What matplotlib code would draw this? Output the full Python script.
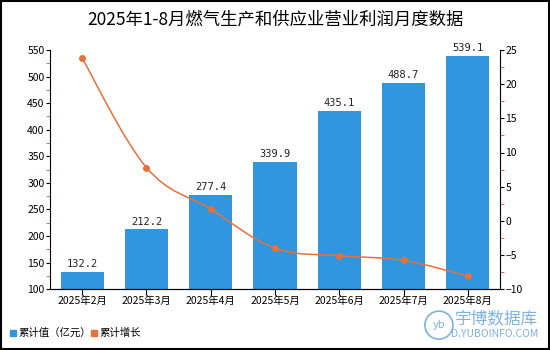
import numpy as np
import matplotlib.pyplot as plt
from matplotlib.path import Path
from matplotlib.patches import PathPatch, Rectangle, Ellipse
from matplotlib.ticker import MultipleLocator

plt.rcParams['font.family'] = ['Noto Sans CJK SC', 'DejaVu Sans']

months = ['2025年2月', '2025年3月', '2025年4月', '2025年5月', '2025年6月', '2025年7月', '2025年8月']
values = [132.2, 212.2, 277.4, 339.9, 435.1, 488.7, 539.1]
growth = [23.8, 7.8, 1.7, -4.0, -5.1, -5.8, -8.1]

bar_color = '#3196E0'
line_color = '#E8703A'

fig = plt.figure(figsize=(5.5, 3.5), dpi=100)
ax = fig.add_axes([0.091, 0.174, 0.818, 0.683])
x = np.arange(len(months))

bars = ax.bar(x, values, width=0.67, color=bar_color, zorder=2)
for xi, v in zip(x, values):
    ax.text(xi, v + 5, '%.1f' % v, ha='center', va='bottom', fontsize=7.5,
            family='DejaVu Sans Mono', color='#222222')

ax.set_ylim(100, 550)
ax.set_xlim(-0.5, len(months) - 0.5)
ax.yaxis.set_major_locator(MultipleLocator(50))
ax.yaxis.set_minor_locator(MultipleLocator(25))
ax.set_xticks(x)
ax.set_xticklabels(months)
ax.tick_params(axis='both', labelsize=7.5, length=3, pad=1)
ax.tick_params(axis='y', which='minor', length=3, color='#E05050')
ax.tick_params(axis='x', length=4)
ax.spines['top'].set_visible(False)
ax.spines['right'].set_visible(False)

ax2 = ax.twinx()
ax2.set_ylim(-10, 25)
ax2.yaxis.set_major_locator(MultipleLocator(5))
ax2.yaxis.set_minor_locator(MultipleLocator(2.5))
ax2.tick_params(axis='y', labelsize=7.5, length=3, pad=1)
ax2.tick_params(axis='y', which='minor', length=3, color='#E05050')
ax2.spines['top'].set_visible(False)
ax2.spines['left'].set_visible(False)

# smooth curve through the points (Catmull-Rom as cubic bezier)
pts = np.column_stack([x, growth]).astype(float)
verts = [tuple(pts[0])]
codes = [Path.MOVETO]
t = 0.18
for i in range(len(pts) - 1):
    p0 = pts[i - 1] if i > 0 else pts[i]
    p1 = pts[i]
    p2 = pts[i + 1]
    p3 = pts[i + 2] if i + 2 < len(pts) else pts[i + 1]
    c1 = p1 + (p2 - p0) * t
    c2 = p2 - (p3 - p1) * t
    verts += [tuple(c1), tuple(c2), tuple(p2)]
    codes += [Path.CURVE4] * 3
ax2.add_patch(PathPatch(Path(verts, codes), facecolor='none', edgecolor=line_color, lw=1.1, zorder=3))
ax2.plot(x, growth, 'o', color=line_color, markersize=4, zorder=4)

fig.text(0.5, 0.943, '2025年1-8月燃气生产和供应业营业利润月度数据', ha='center', va='center', fontsize=12.5)

# legend
fig.patches.append(Rectangle((0.018, 0.04), 0.011, 0.017, transform=fig.transFigure, color=bar_color))
fig.text(0.034, 0.049, '累计值（亿元）', fontsize=7.5, va='center')
fig.patches.append(Rectangle((0.165, 0.04), 0.011, 0.017, transform=fig.transFigure, color=line_color))
fig.text(0.181, 0.049, '累计增长', fontsize=7.5, va='center')

# watermark
wm = '#7FB2DD'
fig.text(0.978, 0.088, '宇博数据库', fontsize=12, color=wm, ha='right', va='center')
fig.text(0.978, 0.046, 'D.YUBOINFO.COM', fontsize=7.5, color=wm, ha='right', va='center')
fig.patches.append(Ellipse((0.798, 0.071), 28 / 550, 28 / 350, transform=fig.transFigure,
                           fill=False, ec=wm, lw=1.2))
fig.text(0.798, 0.071, 'yb', fontsize=8, color=wm, ha='center', va='center', style='italic')

fig.patches.append(Rectangle((0.001, 0.002), 0.997, 0.995, transform=fig.transFigure, fill=False, ec='black', lw=1.5))

fig.savefig('out.png', dpi=100)
